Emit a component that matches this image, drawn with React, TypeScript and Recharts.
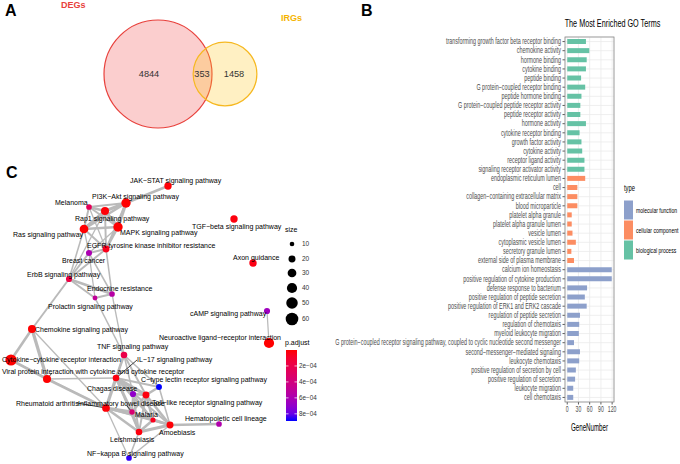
import React from 'react';
import {
  BarChart, Bar, XAxis, YAxis, CartesianGrid, Cell,
  ScatterChart, Scatter, ReferenceLine,
} from 'recharts';

// ---------- A: Venn of DEGs and IRGs ----------
const vennNames = ['DEGs', 'IRGs'];
const vennTotals = [5197, 1811]; // 4844 + 353, 1458 + 353
const vennCenterX = [158, 225];
const vennCenterY = [74, 74];
const vennRegionLabels = ['4844', '353', '1458'];
const vennRegionX = [149, 202, 234];
const vennRegionY = [74, 74, 74];

// ---------- B: most enriched GO terms ----------
const goTerms = [
  'transforming growth factor beta receptor binding', 'chemokine activity', 'hormone binding',
  'cytokine binding', 'peptide binding', 'G protein\u2212coupled receptor binding',
  'peptide hormone binding', 'G protein\u2212coupled peptide receptor activity', 'peptide receptor activity',
  'hormone activity', 'cytokine receptor binding', 'growth factor activity', 'cytokine activity',
  'receptor ligand activity', 'signaling receptor activator activity',
  'endoplasmic reticulum lumen', 'cell', 'collagen\u2212containing extracellular matrix', 'blood microparticle',
  'platelet alpha granule', 'platelet alpha granule lumen', 'vesicle lumen', 'cytoplasmic vesicle lumen',
  'secretory granule lumen', 'external side of plasma membrane',
  'calcium ion homeostasis', 'positive regulation of cytokine production', 'defense response to bacterium',
  'positive regulation of peptide secretion', 'positive regulation of ERK1 and ERK2 cascade',
  'regulation of peptide secretion', 'regulation of chemotaxis', 'myeloid leukocyte migration',
  'G protein\u2212coupled receptor signaling pathway, coupled to cyclic nucleotide second messenger',
  'second\u2212messenger\u2212mediated signaling', 'leukocyte chemotaxis', 'positive regulation of secretion by cell',
  'positive regulation of secretion', 'leukocyte migration', 'cell chemotaxis',
];
const geneNumbers = [
  50, 59, 52, 50, 37, 48, 38, 35, 35, 50, 33, 38, 40, 46, 46,
  48, 27, 27, 27, 12, 12, 14, 23, 11, 18,
  119, 119, 53, 47, 52, 34, 32, 31, 18, 34, 32, 23, 21, 16, 16,
];
const goTypes = [
  ...Array(15).fill('biological process'),
  ...Array(10).fill('cellular component'),
  ...Array(15).fill('molecular function'),
];
const typeNames = ['molecular function', 'cellular component', 'biological process'];
const typeColors: Record<string, string> = {
  'molecular function': '#8DA0CB',
  'cellular component': '#FC8D62',
  'biological process': '#66C2A5',
};
const geneTicks = [0, 30, 60, 90, 120];

const goData = goTerms.map((term, i) => ({ term, count: geneNumbers[i], type: goTypes[i] }));

// ---------- C: KEGG pathway network ----------
const pathways = [
  'JAK\u2212STAT signaling pathway', 'PI3K\u2212Akt signaling pathway', 'Melanoma', 'Rap1 signaling pathway',
  'MAPK signaling pathway', 'Ras signaling pathway', 'EGFR tyrosine kinase inhibitor resistance', 'Breast cancer',
  'ErbB signaling pathway', 'Endocrine resistance', 'Prolactin signaling pathway', 'TGF\u2212beta signaling pathway',
  'Axon guidance', 'cAMP signaling pathway', 'Neuroactive ligand\u2212receptor interaction', 'Chemokine signaling pathway',
  'Cytokine\u2212cytokine receptor interaction', 'Viral protein interaction with cytokine and cytokine receptor',
  'TNF signaling pathway', 'IL\u221217 signaling pathway', 'C\u2212type lectin receptor signaling pathway', 'Chagas disease',
  'Toll\u2212like receptor signaling pathway', 'Rheumatoid arthritis', 'Inflammatory bowel disease', 'Malaria',
  'Amoebiasis', 'Leishmaniasis', 'Hematopoietic cell lineage', 'NF\u2212kappa B signaling pathway',
];
// layout coordinates of the graph (fr layout, panel units)
const layoutX = [168, 126, 89, 105, 118, 84, 106, 89, 69, 112, 95, 234, 253, 267, 269, 32, 11, 47, 124, 116, 159, 133, 146, 106, 132, 153, 170, 139, 219, 129];
const layoutY = [26, 43, 47, 51, 67, 69, 89, 93, 119, 134, 138, 59, 103, 151, 183, 169, 200, 219, 195, 218, 227, 234, 235, 248, 252, 260, 265, 272, 264, 298];
const geneCount = [22, 34, 14, 26, 34, 30, 20, 16, 16, 14, 11, 22, 22, 16, 40, 26, 48, 26, 18, 18, 15, 16, 20, 24, 13, 12, 20, 18, 14, 14];
const pAdjust = [
  1e-5, 1e-6, 2.5e-4, 1e-5, 1e-6, 1e-6, 5e-5, 6e-4, 1.8e-4, 5.5e-4, 5e-4, 2e-5,
  3e-5, 6.5e-4, 1e-7, 1e-6, 1e-10, 1e-7, 2e-4, 2e-5, 8.9e-4, 7e-4,
  2e-5, 1e-5, 3.5e-4, 5e-5, 1e-5, 2e-5, 5.8e-4, 8.7e-4,
];
// [from, to, similarity weight]
const pathwayEdges: [number, number, number][] = [
  [0, 1, 2], [1, 2, 1.5], [1, 3, 2.5], [1, 4, 2.5], [1, 5, 2], [1, 6, 1.5], [2, 3, 2], [2, 4, 1.5],
  [2, 5, 1.5], [2, 6, 1], [3, 4, 2.5], [3, 5, 2.5], [3, 6, 1.5], [3, 8, 1], [4, 5, 2], [4, 6, 2],
  [4, 7, 1], [5, 6, 1.5], [5, 7, 1], [5, 8, 1.2], [6, 7, 1.5], [6, 8, 1.5], [6, 9, 1.2], [7, 8, 1.5],
  [7, 9, 1.2], [7, 10, 1], [8, 9, 2], [8, 10, 1.5], [9, 10, 1.5], [8, 15, 1.5], [10, 18, 1.2], [9, 18, 1],
  [15, 16, 2], [15, 17, 2.5], [16, 17, 2], [17, 23, 2], [16, 23, 1], [15, 23, 1],
  [18, 19, 2], [18, 22, 1.5], [18, 20, 1.2], [18, 21, 1.2], [18, 23, 1], [19, 20, 1.5], [19, 21, 2],
  [19, 22, 2.5], [19, 23, 2.5], [19, 24, 2], [19, 25, 1.5], [19, 26, 1.5], [19, 27, 1.5], [20, 22, 2],
  [20, 26, 1.2], [21, 22, 2], [21, 24, 1.5], [21, 25, 1.5], [21, 27, 1.5], [22, 24, 2], [22, 25, 2],
  [22, 26, 2], [22, 27, 1.5], [23, 24, 2.5], [23, 25, 1.5], [23, 26, 1.5], [23, 27, 2], [24, 25, 2],
  [24, 27, 2], [24, 26, 1.5], [25, 26, 2], [25, 27, 2], [26, 27, 2.5], [27, 29, 1.2], [26, 29, 1.2],
  [23, 29, 1], [26, 28, 2], [13, 14, 1], [17, 19, 1.2],
];
// repel offsets of the node labels
const labelDx = [-38, -34, -34, -30, 2, -71, -19, -27, -42, -25, -47, -42, -20, -77, -110, 3, -9, -45, -27, 21, -18, -46, 6, -90, -54, -18, -11, -29, -34, -42];
const labelDy = [-6, -7, -5, 7, 5, 5, -4, 7, -5, -6, 8, 7, -6, 2, -6, 0, -1, -8, -9, -19, -8, -6, 7, -5, -9, -6, 7, 7, -6, -5];
const leaders: [number, number, number][] = [[19, 21, -18], [23, -29, -5], [17, 5, -6], [24, -5, -6]];
const sizeBreaks = [10, 20, 30, 40, 50, 60];
const pBreaks = [2e-4, 4e-4, 6e-4, 8e-4];

const nodeData = pathways.map((name, i) => ({
  name, x: layoutX[i], y: layoutY[i], size: geneCount[i], p: pAdjust[i], dx: labelDx[i], dy: labelDy[i],
}));

// ---------- helpers ----------
const FONT = 'Liberation Sans, Arial, Helvetica, sans-serif';

const nodeRadius = (s: number) => Math.sqrt(5.3 + 0.69 * (s - 10));

const toLab = (c: number[]) => {
  const lin = (v: number) => { v /= 255; return v <= 0.04045 ? v / 12.92 : ((v + 0.055) / 1.055) ** 2.4; };
  const [R, G, B] = c.map(lin);
  const X = (0.4124 * R + 0.3576 * G + 0.1805 * B) / 0.95047;
  const Y = 0.2126 * R + 0.7152 * G + 0.0722 * B;
  const Z = (0.0193 * R + 0.1192 * G + 0.9505 * B) / 1.08883;
  const f = (t: number) => (t > 0.008856 ? Math.cbrt(t) : 7.787 * t + 16 / 116);
  return [116 * f(Y) - 16, 500 * (f(X) - f(Y)), 200 * (f(Y) - f(Z))];
};
const fromLab = ([L, a, b]: number[]) => {
  const fy = (L + 16) / 116;
  const fx = fy + a / 500;
  const fz = fy - b / 200;
  const inv = (t: number) => (t ** 3 > 0.008856 ? t ** 3 : (t - 16 / 116) / 7.787);
  const X = inv(fx) * 0.95047, Y = inv(fy), Z = inv(fz) * 1.08883;
  const rgb = [
    3.2406 * X - 1.5372 * Y - 0.4986 * Z,
    -0.9689 * X + 1.8758 * Y + 0.0415 * Z,
    0.0557 * X - 0.204 * Y + 1.057 * Z,
  ].map((v) => {
    const g = v <= 0.0031308 ? 12.92 * v : 1.055 * v ** (1 / 2.4) - 0.055;
    return Math.round(Math.max(0, Math.min(1, g)) * 255);
  });
  return `rgb(${rgb.join(',')})`;
};
const LOW = toLab([255, 0, 0]);
const HIGH = toLab([0, 0, 255]);
const pMin = Math.min(...pAdjust);
const pMax = Math.max(...pAdjust);
const pColor = (p: number) => {
  const t = (p - pMin) / (pMax - pMin);
  return fromLab(LOW.map((v, i) => v + (HIGH[i] - v) * t));
};

const Narrow = ({ x, y, size, sx, anchor = 'start', fill = '#000', children }: any) => (
  <text
    transform={`translate(${x},${y}) scale(${sx},1)`}
    textAnchor={anchor}
    fontSize={size}
    fontFamily={FONT}
    fill={fill}
  >
    {children}
  </text>
);

const GoTick = ({ x, y, payload }: any) => (
  <text
    transform={`translate(${x},${y + 2.8}) scale(0.66,1)`}
    textAnchor="end"
    fontSize={8.2}
    fontFamily={FONT}
    fill="#4D4D4D"
  >
    {payload.value}
  </text>
);

const GeneTick = ({ x, y, payload }: any) => (
  <text
    transform={`translate(${x},${y + 6}) scale(0.61,1)`}
    textAnchor="middle"
    fontSize={8.4}
    fontFamily={FONT}
    fill="#4D4D4D"
  >
    {payload.value}
  </text>
);

// ---------- panels ----------
const VennPanel = () => {
  const circles = vennNames.map((name, i) => ({
    name, x: vennCenterX[i], y: vennCenterY[i], r: 0.749 * Math.sqrt(vennTotals[i]),
  }));
  const regions = vennRegionLabels.map((label, i) => ({ label, x: vennRegionX[i], y: vennRegionY[i] }));
  const fills = ['rgba(240,80,80,0.28)', 'rgba(255,200,40,0.28)'];
  const strokes = ['#E8413C', '#F6B820'];
  return (
    <ScatterChart width={310} height={160} margin={{ top: 0, right: 0, bottom: 0, left: 0 }}>
      <XAxis type="number" dataKey="x" domain={[0, 310]} hide />
      <YAxis type="number" dataKey="y" domain={[0, 160]} reversed hide />
      <Scatter
        data={circles}
        isAnimationActive={false}
        shape={(p: any) => (
          <circle cx={p.cx} cy={p.cy} r={p.payload.r} fill={fills[p.index]} stroke={strokes[p.index]} strokeWidth={1.2} />
        )}
      />
      <Scatter
        data={regions}
        isAnimationActive={false}
        shape={(p: any) => (
          <text x={p.cx} y={p.cy + 3.3} textAnchor="middle" fontSize={9.2} fontFamily={FONT} fill="#333">
            {p.payload.label}
          </text>
        )}
      />
    </ScatterChart>
  );
};

const GoPanel = () => (
  <BarChart
    layout="vertical"
    width={390}
    height={464}
    data={goData}
    margin={{ top: 37, right: 66, bottom: 42, left: 0 }}
    barCategoryGap="22%"
  >
    <CartesianGrid stroke="#EBEBEB" strokeWidth={0.8} />
    <XAxis
      type="number"
      domain={[-6, 125]}
      ticks={geneTicks}
      interval={0}
      allowDataOverflow
      height={20}
      tickSize={2.5}
      tickMargin={1}
      tick={<GeneTick />}
      axisLine={false}
      tickLine={{ stroke: '#333', strokeWidth: 0.8 }}
    />
    <YAxis
      type="category"
      dataKey="term"
      width={275}
      interval={0}
      tickSize={2.5}
      tickMargin={1.5}
      tick={<GoTick />}
      axisLine={false}
      tickLine={{ stroke: '#333', strokeWidth: 0.8 }}
    />
    <Bar dataKey="count" isAnimationActive={false}>
      {goData.map((d, i) => (
        <Cell key={i} fill={typeColors[d.type]} />
      ))}
    </Bar>
  </BarChart>
);

const NetworkPanel = () => (
  <ScatterChart width={330} height={304} margin={{ top: 0, right: 0, bottom: 0, left: 0 }}>
    <XAxis type="number" dataKey="x" domain={[0, 330]} hide />
    <YAxis type="number" dataKey="y" domain={[0, 304]} reversed hide />
    {pathwayEdges.map(([a, b, w], i) => (
      <ReferenceLine
        key={i}
        segment={[{ x: layoutX[a], y: layoutY[a] }, { x: layoutX[b], y: layoutY[b] }]}
        stroke="#BABABA"
        strokeWidth={w * 1.3}
        ifOverflow="visible"
      />
    ))}
    {leaders.map(([n, dx, dy], i) => (
      <ReferenceLine
        key={`l${i}`}
        segment={[{ x: layoutX[n], y: layoutY[n] }, { x: layoutX[n] + dx, y: layoutY[n] + dy }]}
        stroke="#111"
        strokeWidth={0.8}
        ifOverflow="visible"
      />
    ))}
    <Scatter
      data={nodeData}
      isAnimationActive={false}
      shape={(p: any) => (
        <circle cx={p.cx} cy={p.cy} r={nodeRadius(p.payload.size)} fill={pColor(p.payload.p)} />
      )}
    />
    <Scatter
      data={nodeData}
      isAnimationActive={false}
      shape={(p: any) => (
        <text x={p.cx + p.payload.dx} y={p.cy + p.payload.dy + 2.5} fontSize={7} fontFamily={FONT} fill="#000">
          {p.payload.name}
        </text>
      )}
    />
  </ScatterChart>
);

const Overlay = () => {
  const barTop = 350;
  const barH = 71;
  const pY = (v: number) => barTop + ((v - pMin) / (pMax - pMin)) * barH;
  const stops = Array.from({ length: 11 }, (_, i) => i / 10);
  return (
    <svg width={680} height={464} style={{ position: 'absolute', left: 0, top: 0, pointerEvents: 'none' }}>
      <defs>
        <linearGradient id="pgrad" x1="0" y1="0" x2="0" y2="1">
          {stops.map((t) => (
            <stop key={t} offset={t} stopColor={pColor(pMin + t * (pMax - pMin))} />
          ))}
        </linearGradient>
      </defs>
      {/* panel letters */}
      <text x={5} y={16} fontSize={16} fontWeight="bold" fontFamily={FONT}>A</text>
      <text x={361} y={16} fontSize={16} fontWeight="bold" fontFamily={FONT}>B</text>
      <text x={6} y={178} fontSize={16} fontWeight="bold" fontFamily={FONT}>C</text>

      {/* venn set names */}
      <text x={61} y={8} fontSize={9} fontWeight="bold" fontFamily={FONT} fill="#E8413C">{vennNames[0]}</text>
      <text x={281} y={21} fontSize={9} fontWeight="bold" fontFamily={FONT} fill="#F5B400">{vennNames[1]}</text>

      {/* GO panel decorations */}
      <rect x={565} y={37} width={49} height={365} fill="none" stroke="#8C8C8C" strokeWidth={0.8} />
      <Narrow x={612.5} y={27} size={11.5} sx={0.63} anchor="middle">The Most Enriched GO Terms</Narrow>
      <Narrow x={589.5} y={430.5} size={10} sx={0.62} anchor="middle">GeneNumber</Narrow>
      <Narrow x={624} y={191} size={9} sx={0.65}>type</Narrow>
      {typeNames.map((t, i) => (
        <g key={t}>
          <rect x={624} y={200.5 + i * 20} width={9} height={19} fill={typeColors[t]} />
          <Narrow x={636} y={212.8 + i * 20} size={7.8} sx={0.65}>{t}</Narrow>
        </g>
      ))}

      {/* network legends */}
      <text x={285} y={231.5} fontSize={7} fontFamily={FONT}>size</text>
      {sizeBreaks.map((s, i) => {
        const cy = [244, 259, 273, 288, 303, 319][i];
        return (
          <g key={s}>
            <circle cx={292} cy={cy} r={nodeRadius(s)} fill="#000" />
            <text x={302} y={cy + 2.3} fontSize={6.5} fontFamily={FONT} fill="#333">{s}</text>
          </g>
        );
      })}
      <text x={285} y={344.5} fontSize={7} fontFamily={FONT}>p.adjust</text>
      <rect x={286} y={barTop} width={11} height={barH} fill="url(#pgrad)" />
      {pBreaks.map((v) => (
        <g key={v}>
          <line x1={286} x2={288.5} y1={pY(v)} y2={pY(v)} stroke="#fff" strokeWidth={0.7} />
          <line x1={294.5} x2={297} y1={pY(v)} y2={pY(v)} stroke="#fff" strokeWidth={0.7} />
          <text x={299} y={pY(v) + 2.2} fontSize={6.3} fontFamily={FONT} fill="#333">
            {`${Math.round(v * 1e4)}e\u221204`}
          </text>
        </g>
      ))}
    </svg>
  );
};

export default function App() {
  return (
    <div style={{ position: 'absolute', left: 0, top: 0, width: 680, height: 464, background: '#fff', overflow: 'hidden' }}>
      <div style={{ position: 'absolute', left: 0, top: 0 }}>
        <VennPanel />
      </div>
      <div style={{ position: 'absolute', left: 0, top: 160 }}>
        <NetworkPanel />
      </div>
      <div style={{ position: 'absolute', left: 290, top: 0 }}>
        <GoPanel />
      </div>
      <Overlay />
    </div>
  );
}
